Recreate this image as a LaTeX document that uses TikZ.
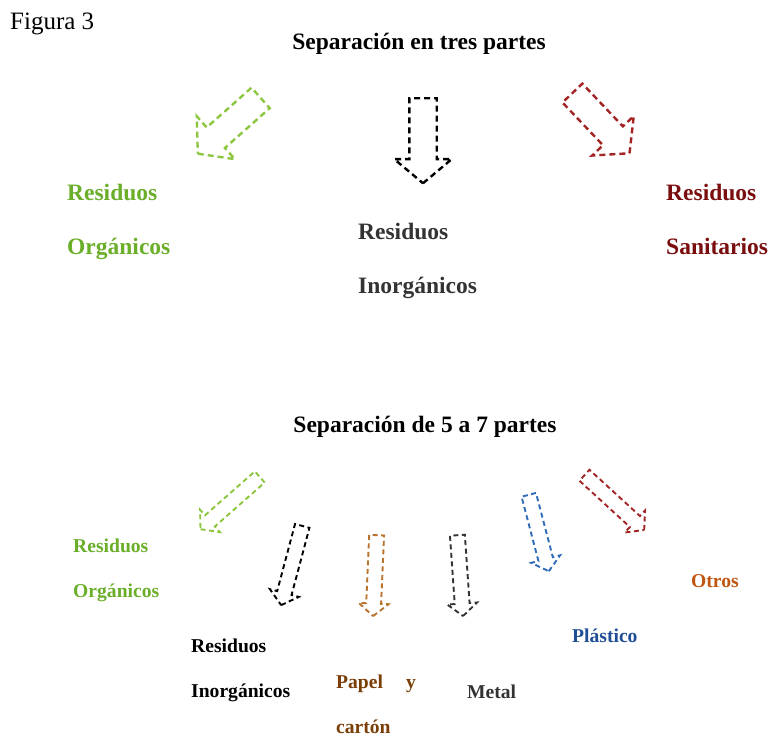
\documentclass[tikz,border=0pt]{standalone}
\usepackage{fontspec}
\setmainfont{Liberation Serif}
\usetikzlibrary{shapes.arrows}

\definecolor{verdeflecha}{HTML}{8CC63F}
\definecolor{verdetexto}{HTML}{6AAE2A}
\definecolor{rojoflecha}{HTML}{A32424}
\definecolor{rojotexto}{HTML}{7A0E0E}
\definecolor{cafeflecha}{HTML}{B8742E}
\definecolor{cafetexto}{HTML}{7A3E06}
\definecolor{azulflecha}{HTML}{2E6BB8}
\definecolor{azultexto}{HTML}{1F4E96}
\definecolor{naranjatexto}{HTML}{C0560F}
\definecolor{gristexto}{HTML}{333333}

\begin{document}
\begin{tikzpicture}[x=1pt, y=-1pt,
	flecha/.style={single arrow, draw=#1, inner xsep=0pt, single arrow tip angle=100},
	grande/.style={inner ysep=12.5pt, single arrow head extend=15pt, line width=2.4pt, dash pattern=on 6pt off 4pt},
	chica/.style={inner ysep=6.5pt, single arrow head extend=7.5pt, line width=1.9pt, dash pattern=on 5pt off 3.5pt},
	titulo/.style={font=\fontsize{23.5}{28}\selectfont\bfseries, anchor=base, inner sep=0pt},
	etiqueta/.style={font=\fontsize{23.5}{54}\selectfont\bfseries, align=left, anchor=base west, inner sep=0pt},
	etiquetachica/.style={font=\fontsize{19.6}{45}\selectfont\bfseries, align=left, anchor=base west, inner sep=0pt}]
		\useasboundingbox (0, 0) rectangle (768, 738);
		\node[anchor=base west, inner sep=0pt, font=\fontsize{25}{30}\selectfont] (figura) at (10, 30) {Figura 3};

		% separacion en tres partes
		\node[titulo] (tres) at (419, 50) {Separación en tres partes};
		\node[flecha=verdeflecha, grande, minimum height=84pt, rotate=221.6] (fVerde) at (233.5, 122) {};
		\node[flecha=black, grande, minimum height=85pt, rotate=-90] (fNegra) at (423, 135) {};
		\node[flecha=rojoflecha, grande, minimum height=83pt, rotate=-46.5] (fRoja) at (597, 119) {};
		\node[etiqueta, text=verdetexto] (organicos) at (67, 254) {Residuos\\Orgánicos};
		\node[etiqueta, text=gristexto] (inorganicos) at (358, 293) {Residuos\\Inorgánicos};
		\node[etiqueta, text=rojotexto] (sanitarios) at (666, 254) {Residuos\\Sanitarios};

		% separacion de 5 a 7 partes
		\node[titulo] (siete) at (425, 432) {Separación de 5 a 7 partes};
		\node[flecha=verdeflecha, chica, minimum height=79pt, rotate=221.4] (gVerde) at (232.5, 501) {};
		\node[flecha=black, chica, minimum height=82pt, rotate=-104.9] (gNegra) at (292.5, 562.5) {};
		\node[flecha=cafeflecha, chica, minimum height=81pt, rotate=-92.5] (gCafe) at (375, 572.5) {};
		\node[flecha=black!80, chica, minimum height=81pt, rotate=-86] (gGris) at (460, 572.5) {};
		\node[flecha=azulflecha, chica, minimum height=79pt, rotate=-75.3] (gAzul) at (538, 530) {};
		\node[flecha=rojoflecha, chica, minimum height=81pt, rotate=-42.5] (gRoja) at (612, 500.5) {};
		\node[etiquetachica, text=verdetexto] (organicos2) at (73, 597) {Residuos\\Orgánicos};
		\node[etiquetachica, text=black] (inorganicos2) at (191, 697) {Residuos\\Inorgánicos};
		\node[etiquetachica, text=cafetexto] (papel) at (336, 733) {Papel\hspace{23pt}y\\cartón};
		\node[etiquetachica, text=gristexto] (metal) at (467, 698) {Metal};
		\node[etiquetachica, text=azultexto] (plastico) at (572, 642) {Plástico};
		\node[etiquetachica, text=naranjatexto] (otros) at (691, 587) {Otros};
\end{tikzpicture}
\end{document}
